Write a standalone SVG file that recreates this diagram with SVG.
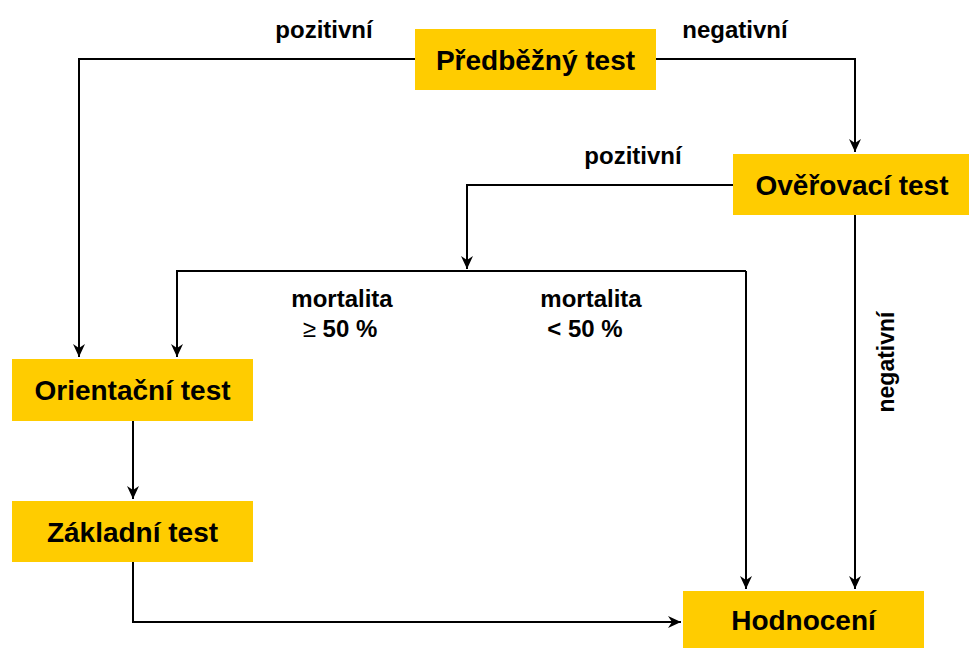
<svg xmlns="http://www.w3.org/2000/svg" width="969" height="648" viewBox="0 0 969 648">
<style>
.box{fill:#FFCC00;}
.bt{font-family:"Liberation Sans",Arial,sans-serif;font-weight:bold;font-size:28px;fill:#000;text-anchor:middle;}
.lb{font-family:"Liberation Sans",Arial,sans-serif;font-weight:bold;font-size:24px;fill:#000;text-anchor:middle;}
.ln{fill:none;stroke:#000;stroke-width:2;}
</style>
<defs>
<marker id="ah" markerUnits="userSpaceOnUse" markerWidth="14" markerHeight="14" refX="13" refY="7" orient="auto">
<path d="M0,1 L13,7 L0,13 L4,7 z" fill="#000"/>
</marker>
</defs>
<rect width="969" height="648" fill="#fff"/>
<g id="connectors">
<path class="ln" d="M415,59 H79 V357" marker-end="url(#ah)"/>
<path class="ln" d="M656,59 H855 V152" marker-end="url(#ah)"/>
<path class="ln" d="M733,185 H467 V269" marker-end="url(#ah)"/>
<path class="ln" d="M746,271 H177 V357" marker-end="url(#ah)"/>
<path class="ln" d="M746,271 V589" marker-end="url(#ah)"/>
<path class="ln" d="M855,215 V589" marker-end="url(#ah)"/>
<path class="ln" d="M133,421 V499" marker-end="url(#ah)"/>
<path class="ln" d="M133,562 V622 H681" marker-end="url(#ah)"/>
</g>
<g id="labels">
<text class="lb" x="324" y="38">pozitivní</text>
<text class="lb" x="735" y="38">negativní</text>
<text class="lb" x="633" y="164">pozitivní</text>
<text class="lb" x="342" y="307">mortalita</text>
<text class="lb" x="340" y="337"><tspan font-weight="normal">≥</tspan> 50 %</text>
<text class="lb" x="591" y="307">mortalita</text>
<text class="lb" x="585" y="337">&lt; 50 %</text>
<text class="lb" transform="translate(894,362) rotate(-90)" style="font-size:23px">negativní</text>
</g>
<g id="predbezny">
<rect class="box" x="415" y="29" width="241" height="61"/>
<text class="bt" x="535.5" y="69.5">Předběžný test</text>
</g>
<g id="overovaci">
<rect class="box" x="733" y="154" width="236" height="61"/>
<text class="bt" x="852" y="194.5">Ověřovací test</text>
</g>
<g id="orientacni">
<rect class="box" x="12" y="359" width="241" height="62"/>
<text class="bt" x="132.5" y="400">Orientační test</text>
</g>
<g id="zakladni">
<rect class="box" x="12" y="501" width="241" height="61"/>
<text class="bt" x="132.5" y="541.5">Základní test</text>
</g>
<g id="hodnoceni">
<rect class="box" x="683" y="591" width="241" height="57"/>
<text class="bt" x="803.5" y="630">Hodnocení</text>
</g>
</svg>
